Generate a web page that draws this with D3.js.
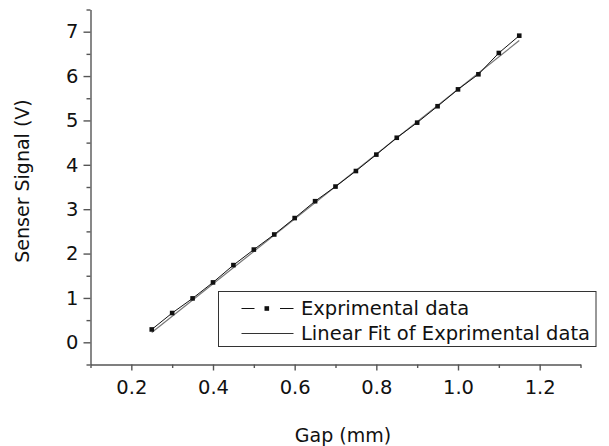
<!DOCTYPE html>
<html>
<head>
<meta charset="utf-8">
<script src="https://cdn.jsdelivr.net/npm/d3@7"></script>
<style>
  body { margin: 0; background: #fff; }
  text { font-family: "DejaVu Sans", sans-serif; fill: #111; }
</style>
</head>
<body>
<div id="chart"></div>
<script>
// measured data (gap in mm, signal in V)
var gap = [0.25, 0.30, 0.35, 0.40, 0.45, 0.50, 0.55, 0.60, 0.65, 0.70,
           0.75, 0.80, 0.85, 0.90, 0.95, 1.00, 1.05, 1.10, 1.15];
var signal = [0.29, 0.66, 0.99, 1.35, 1.74, 2.09, 2.43, 2.80, 3.18, 3.51,
              3.86, 4.23, 4.61, 4.95, 5.32, 5.70, 6.04, 6.52, 6.91];

// fitted line end points as drawn
var fitGap = [0.25, 1.15];
var fitSignal = [0.22, 6.80];

var xTicks = [0.2, 0.4, 0.6, 0.8, 1.0, 1.2];
var xMinor = [0.1, 0.3, 0.5, 0.7, 0.9, 1.1, 1.3];
var yTicks = [0, 1, 2, 3, 4, 5, 6, 7];
var yMinor = [-0.5, 0.5, 1.5, 2.5, 3.5, 4.5, 5.5, 6.5, 7.5];

var legendLabels = ["Exprimental data", "Linear Fit of Exprimental data"];

var W = 609, H = 446;

var svg = d3.select("#chart")
  .append("svg")
    .attr("width", W)
    .attr("height", H);

var x = d3.scaleLinear()
  .domain([0.1, 1.3])
  .range([90.5, 580.5]);

var y = d3.scaleLinear()
  .domain([-0.5, 7.5])
  .range([364.5, 9.5]);

// minor ticks first
svg.append("g")
  .attr("transform", "translate(0," + y(-0.5) + ")")
  .call(d3.axisBottom(x).tickValues(xMinor).tickSize(3.5).tickSizeOuter(0).tickFormat(""))
  .call(function(g) { g.select(".domain").remove(); });

svg.append("g")
  .attr("transform", "translate(" + x(0.1) + ",0)")
  .call(d3.axisLeft(y).tickValues(yMinor).tickSize(4).tickSizeOuter(0).tickFormat(""))
  .call(function(g) { g.select(".domain").remove(); });

var xAxis = svg.append("g")
  .attr("transform", "translate(0," + y(-0.5) + ")")
  .call(d3.axisBottom(x).tickValues(xTicks).tickSize(6).tickSizeOuter(0)
    .tickPadding(10).tickFormat(d3.format(".1f")));
xAxis.selectAll("text")
  .style("font-size", "19.5px")
  .attr("dy", "0.71em");

var yAxis = svg.append("g")
  .attr("transform", "translate(" + x(0.1) + ",0)")
  .call(d3.axisLeft(y).tickValues(yTicks).tickSize(7).tickSizeOuter(0).tickPadding(5));
yAxis.selectAll("text")
  .style("font-size", "19.5px");

svg.selectAll(".tick line, .domain")
  .attr("stroke", "#555")
  .attr("stroke-width", 1.4);

// axis titles
svg.append("text")
  .attr("x", 343)
  .attr("y", 442)
  .attr("text-anchor", "middle")
  .style("font-size", "19px")
  .text("Gap (mm)");

svg.append("text")
  .attr("transform", "translate(29,181) rotate(-90)")
  .attr("text-anchor", "middle")
  .style("font-size", "19px")
  .text("Senser Signal (V)");

// fit line
var fitData = fitGap.map(function(d, i) { return [d, fitSignal[i]]; });
var line = d3.line()
  .x(function(d) { return x(d[0]); })
  .y(function(d) { return y(d[1]); });

svg.append("path")
  .datum(fitData)
  .attr("fill", "none")
  .attr("stroke", "#777")
  .attr("stroke-width", 1.2)
  .attr("d", line);

// experimental data
var data = gap.map(function(d, i) { return [d, signal[i]]; });

svg.append("path")
  .datum(data)
  .attr("fill", "none")
  .attr("stroke", "#111")
  .attr("stroke-width", 1)
  .attr("d", line);

svg.selectAll("rect.pt")
  .data(data)
  .enter()
  .append("rect")
    .attr("class", "pt")
    .attr("x", function(d) { return x(d[0]) - 2.3; })
    .attr("y", function(d) { return y(d[1]) - 2.3; })
    .attr("width", 4.6)
    .attr("height", 4.6)
    .attr("fill", "#111");

// legend
var lg = svg.append("g").attr("transform", "translate(218.5,291.5)");
lg.append("rect")
  .attr("width", 377.5)
  .attr("height", 55)
  .attr("fill", "#fff")
  .attr("stroke", "#333")
  .attr("stroke-width", 1);

lg.append("line")
  .attr("x1", 23).attr("x2", 36)
  .attr("y1", 17).attr("y2", 17)
  .attr("stroke", "#111");
lg.append("line")
  .attr("x1", 61.5).attr("x2", 75)
  .attr("y1", 17).attr("y2", 17)
  .attr("stroke", "#111");
lg.append("rect")
  .attr("x", 46).attr("y", 14.7)
  .attr("width", 4.6).attr("height", 4.6)
  .attr("fill", "#111");

lg.append("line")
  .attr("x1", 23).attr("x2", 75)
  .attr("y1", 42).attr("y2", 42)
  .attr("stroke", "#333");

lg.selectAll("text.lab")
  .data(legendLabels)
  .enter()
  .append("text")
    .attr("class", "lab")
    .attr("x", 82.5)
    .attr("y", function(d, i) { return 23.5 + i * 25; })
    .style("font-size", "19.5px")
    .text(function(d) { return d; });
</script>
</body>
</html>
